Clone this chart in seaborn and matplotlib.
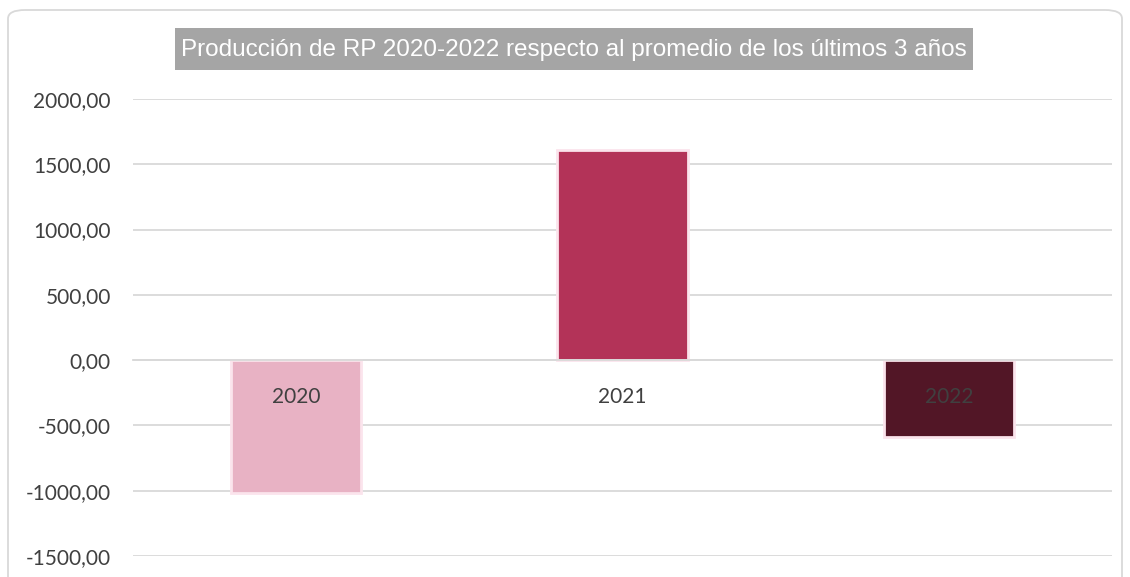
import numpy as np
import pandas as pd
import matplotlib.pyplot as plt
import seaborn as sns
from matplotlib.patches import FancyBboxPatch, Rectangle
from matplotlib.ticker import FuncFormatter

# Datos del gráfico
years = ["2020", "2021", "2022"]
values = [-1020.0, 1610.0, -590.0]
bar_colors = ["#e8b2c4", "#b33358", "#521626"]
title = "Producción de RP 2020-2022 respecto al promedio de los últimos 3 años"

df = pd.DataFrame({"year": years, "value": values})

sns.set_style("white")
plt.rcParams["font.family"] = ["Lato", "DejaVu Sans"]

fig = plt.figure(figsize=(11.3, 5.77), dpi=100)
ax = fig.add_axes([133 / 1130, 1 - 556 / 577, (1112 - 133) / 1130, (556 - 99) / 577])

sns.barplot(data=df, x="year", y="value", hue="year", palette=bar_colors,
            saturation=1, width=0.4, edgecolor="#fbe4ec", linewidth=2,
            legend=False, ax=ax)

ax.set_xlim(-0.5, 2.5)
ax.set_ylim(-1500, 2000)
ax.set_yticks(np.arange(-1500, 2001, 500))
ax.yaxis.set_major_formatter(FuncFormatter(lambda v, p: f"{v:.2f}".replace(".", ",")))
ax.grid(axis="y", color="#d9d9d9", linewidth=1.3)
ax.set_axisbelow(True)
ax.tick_params(axis="y", length=0, pad=16, labelsize=15, labelcolor="#404040")

# eje de categorías en el cero
for s in ["top", "right", "left"]:
    ax.spines[s].set_visible(False)
ax.spines["bottom"].set_position(("data", 0))
ax.spines["bottom"].set_color("#d9d9d9")
ax.spines["bottom"].set_linewidth(1.3)
ax.set_xticks([-0.5, 0.5, 1.5, 2.5], minor=True)
ax.tick_params(axis="x", which="major", length=0, pad=19, labelsize=15, labelcolor="#404040")
ax.tick_params(axis="x", which="minor", length=5, width=1.3, color="#d9d9d9", direction="out")
ax.xaxis.set_zorder(5)
ax.set_xlabel("")
ax.set_ylabel("")

# título con fondo gris
fig.patches.append(Rectangle((175 / 1130, 1 - 70 / 577), 798 / 1130, 42 / 577,
                             transform=fig.transFigure, facecolor="#a5a5a5",
                             edgecolor="none", zorder=1))
fig.text(574 / 1130, 1 - 50 / 577, title, ha="center", va="center",
         fontsize=17.5, color="white", zorder=2,
         family=["Liberation Sans Narrow", "Liberation Sans", "DejaVu Sans"])

# marco redondeado del gráfico
frame = FancyBboxPatch((8 / 1130, -20 / 577), 1114 / 1130, (577 - 10 + 20) / 577,
                       boxstyle="round,pad=0,rounding_size=0.015",
                       transform=fig.transFigure, facecolor="none",
                       edgecolor="#d9d9d9", linewidth=1.3, zorder=0)
fig.patches.append(frame)

plt.savefig("out.png", dpi=100)
